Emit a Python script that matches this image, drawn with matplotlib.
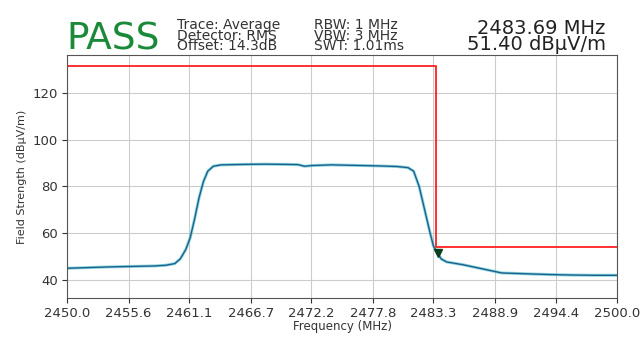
import matplotlib
matplotlib.use('Agg')
import matplotlib.pyplot as plt
import numpy as np

# trace (MHz, dBuV/m)
freq = [2450.0, 2452.0, 2454.0, 2456.0, 2458.0, 2459.0, 2459.8, 2460.3, 2460.8,
        2461.2, 2461.6, 2462.0, 2462.4, 2462.8, 2463.3, 2464.0, 2466.0, 2468.0,
        2470.0, 2471.0, 2471.6, 2472.2, 2474.0, 2476.0, 2478.0, 2480.0, 2481.0,
        2481.5, 2482.0, 2482.5, 2483.0, 2483.3, 2483.69, 2484.0, 2484.5, 2486.0,
        2488.0, 2489.5, 2492.0, 2494.0, 2496.0, 2498.0, 2500.0]
level = [45.0, 45.3, 45.6, 45.8, 46.0, 46.3, 47.0, 49.0, 53.0,
         58.0, 66.0, 75.0, 82.0, 86.5, 88.6, 89.2, 89.4, 89.5,
         89.4, 89.3, 88.6, 88.9, 89.2, 89.0, 88.8, 88.5, 88.0,
         86.5, 80.0, 70.0, 60.0, 54.5, 51.4, 49.0, 47.7, 46.5,
         44.5, 43.0, 42.6, 42.3, 42.1, 42.0, 42.0]

limit_freq = [2450.0, 2483.5, 2483.5, 2500.0]
limit_level = [131.5, 131.5, 54.0, 54.0]

marker_freq = 2483.69
marker_level = 51.40

xticks = [2450.0, 2455.6, 2461.1, 2466.7, 2472.2, 2477.8, 2483.3, 2488.9, 2494.4, 2500.0]
yticks = [40, 60, 80, 100, 120]

fig = plt.figure(figsize=(6.43, 3.39), dpi=100)
ax = fig.add_axes([0.104, 0.121, 0.856, 0.717])

ax.plot(freq, level, color='#40c0c8', lw=2.2, alpha=0.6)
ax.plot(freq, level, color='#1f5f8f', lw=1.0)
ax.plot(limit_freq, limit_level, color='#ff2020', lw=1.3)
ax.plot(marker_freq, marker_level, marker='v', color='#0a4020', ms=6)

ax.set_xlim(2450, 2500)
ax.set_ylim(32.3, 136.2)
ax.set_xticks(xticks)
ax.set_xticklabels(['%.1f' % f for f in xticks])
ax.set_yticks(yticks)
ax.grid(True, color='#cccccc', lw=0.8)
ax.tick_params(labelsize=9.5, colors='#333333', pad=3)
for s in ax.spines.values():
    s.set_color('#555555')

ax.set_xlabel('Frequency (MHz)', fontsize=8.5, color='#333333', labelpad=0)
ax.set_ylabel('Field Strength (dBµV/m)', fontsize=8, color='#333333')

fig.text(0.104, 0.855, 'PASS', color='#1a8a3a', fontsize=27)
fig.text(0.276, 0.852, 'Trace: Average\nDetector: RMS\nOffset: 14.3dB',
         fontsize=10, color='#333333', linespacing=0.68)
fig.text(0.488, 0.852, 'RBW: 1 MHz\nVBW: 3 MHz\nSWT: 1.01ms',
         fontsize=10, color='#333333', linespacing=0.68)
fig.text(0.942, 0.852, '2483.69 MHz\n51.40 dBµV/m', fontsize=14, ha='right',
         color='#222222', linespacing=0.8)

fig.savefig('out.png', dpi=100)
